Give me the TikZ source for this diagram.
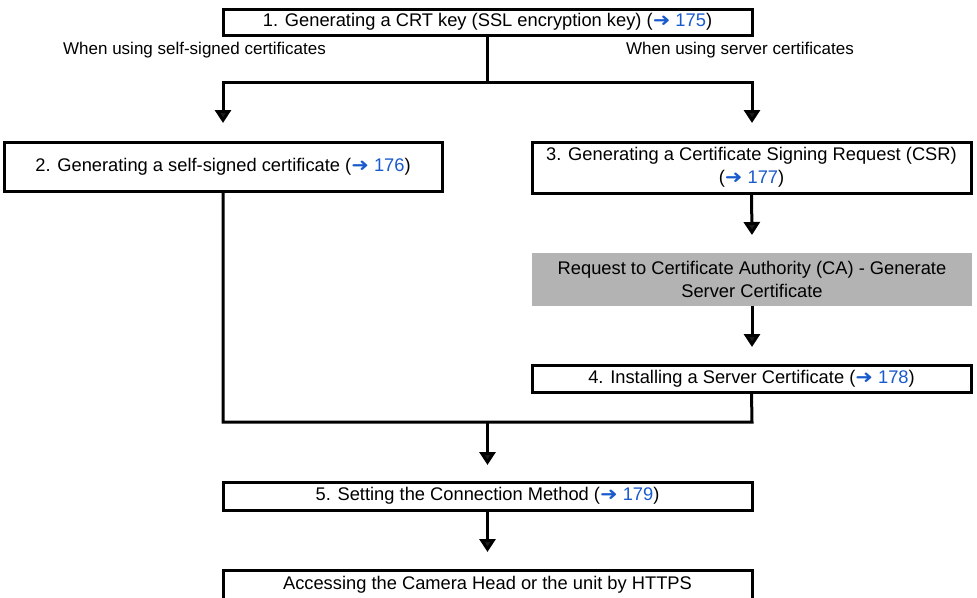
\documentclass[tikz,border=0pt]{standalone}
\usepackage{fontspec}
\setmainfont{Liberation Sans}
\newfontfamily\symf{DejaVu Sans}
\usetikzlibrary{arrows.meta}
\definecolor{linkblue}{RGB}{25,90,205}
\definecolor{boxgray}{RGB}{179,179,179}
\definecolor{tipcol}{RGB}{30,30,30}
\newcommand{\lnk}[1]{(\textcolor{linkblue}{{\symf\scalebox{1.15}[1.0]{➜}} #1})}
\begin{document}
\begin{tikzpicture}[x=1pt,y=-1pt,
  txt/.style={font=\fontsize{17}{22.5}\selectfont},
  btxt/.style={font=\fontsize{18.3}{22.5}\selectfont},
  stepbox/.style={btxt, draw, line width=3pt, inner sep=0pt, align=center},
  graybox/.style={btxt, fill=boxgray, inner sep=0pt, align=center},
  conn/.style={line width=3pt, line cap=butt},
  arr/.style={conn, -{Triangle[width=16pt,length=13pt,fill=tipcol]}}
]
\useasboundingbox (0,0) rectangle (977,597);

\node[stepbox, minimum width=529pt, minimum height=26pt] (b1) at (487.5,22) {1. Generating a CRT key (SSL encryption key) \lnk{175}};
\node[txt] (l1) at (194.5,50) {When using self-signed certificates};
\node[txt] (l2) at (740,50) {When using server certificates};

\node[stepbox, minimum width=438pt, minimum height=49pt] (b2) at (223,166.5) {2. Generating a self-signed certificate \lnk{176}};
\node[stepbox, minimum width=439pt, minimum height=51pt] (b3) at (751.5,167.5) {3. Generating a Certificate Signing Request (CSR)\\ \lnk{177}};
\node[graybox, minimum width=440pt, minimum height=53pt] (g) at (752,279.5) {Request to Certificate Authority (CA) - Generate\\ Server Certificate};
\node[stepbox, minimum width=439pt, minimum height=27pt] (b4) at (751.5,378.5) {4. Installing a Server Certificate \lnk{178}};
\node[stepbox, minimum width=529pt, minimum height=28pt] (b5) at (487.5,496) {5. Setting the Connection Method \lnk{179}};
\node[stepbox, minimum width=529pt, minimum height=30pt] (b6) at (487.5,585) {Accessing the Camera Head or the unit by HTTPS};

\coordinate (j1) at (487.5,82);
\coordinate (t2) at (223,123);
\coordinate (t3) at (752,123);
\coordinate (tg) at (752,235);
\coordinate (t4) at (752,347);
\coordinate (jl) at (223,422);
\coordinate (jr) at (752,422);
\coordinate (jm) at (487.5,422);
\coordinate (t5) at (487.5,465);
\coordinate (t6) at (487.5,552);

\draw[conn] (b1.south) -- (j1);
\draw[arr] (j1) -| (t2);
\draw[arr] (j1) -| (t3);
\draw[arr] (b3.south) -- (tg);
\draw[arr] (g.south) -- (t4);
\draw[conn, line join=miter] (b2.south) -- (jl) -- (jr) -- (b4.south);
\draw[arr] (jm) -- (t5);
\draw[arr] (b5.south) -- (t6);
\end{tikzpicture}
\end{document}
